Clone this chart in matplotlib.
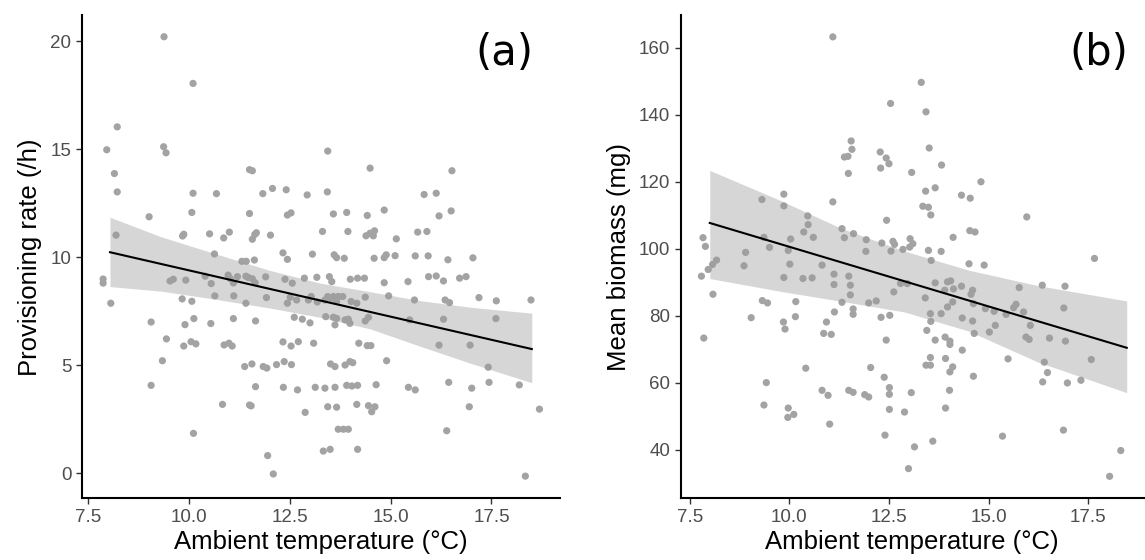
import numpy as np
import matplotlib
matplotlib.use("Agg")
import matplotlib.pyplot as plt

# ---------------- data ----------------
# Panel (a): provisioning rate (/h) vs ambient temperature (°C)
temp_a = [
    9.38, 10.10, 8.22, 7.96, 9.37, 9.43, 8.15, 8.22, 11.50, 11.57,
    10.10, 10.68, 11.83, 12.07, 12.41, 9.01, 10.07, 11.50, 12.44, 12.53,
    8.19, 9.84, 9.87, 10.51, 10.86, 11.00, 11.57, 11.63, 11.67, 12.02,
    10.63, 11.31, 11.42, 11.62, 12.33, 12.44, 7.87, 7.87, 9.53, 9.61,
    9.92, 10.40, 10.55, 10.97, 11.02, 11.10, 11.20, 11.41, 11.47, 11.57,
    11.64, 11.90, 12.38, 12.56, 12.86, 13.17, 13.48, 13.54, 14.00, 14.18,
    14.35, 14.84, 15.43, 15.94, 16.13, 16.31, 16.71, 16.87,
    12.93, 13.43, 13.31, 13.06, 13.44, 14.49, 16.52, 15.83, 16.13, 13.58,
    13.91, 14.42, 14.84, 16.20, 16.50, 13.94, 14.39, 14.49, 14.57, 14.60,
    15.14, 15.67, 15.90, 13.60, 13.66, 13.85, 14.59, 14.84, 14.89, 15.11,
    15.61, 15.93, 16.42, 17.04,
    8.06, 9.83, 10.07, 10.64, 11.11, 11.41, 11.92, 12.44, 12.51, 12.67,
    12.96, 13.03, 13.18, 13.37, 13.44, 13.52, 13.58, 13.70, 13.81, 13.66,
    14.02, 14.16, 14.37, 14.95, 15.59, 16.35, 16.46, 17.19, 17.62, 18.48,
    9.06, 9.90, 10.12, 10.54, 11.10, 11.65, 12.61, 12.81, 13.00, 13.39,
    13.58, 13.66, 13.62, 13.87, 13.95, 13.99, 14.37, 14.45, 15.47, 16.31,
    17.61,
    9.44, 9.87, 10.05, 10.17, 10.87, 10.99, 11.07, 12.33, 12.53, 12.71,
    13.09, 14.21, 14.42, 14.51, 16.20, 16.97,
    9.34, 11.38, 11.56, 11.84, 11.93, 12.17, 12.36, 12.54, 13.51, 13.62,
    13.87, 13.99, 14.06, 14.90, 17.42,
    9.06, 11.65, 12.34, 12.69, 13.13, 13.37, 13.62, 13.91, 14.04, 14.18,
    14.64, 15.44, 15.61, 16.44, 17.01, 17.44, 18.19,
    10.83, 11.50, 11.54, 12.88, 13.44, 13.66, 14.16, 14.45, 14.53, 14.61,
    16.95, 18.69,
    10.11, 13.70, 13.83, 13.95, 16.39, 13.33, 13.50, 14.18, 11.95, 12.09,
    18.34,
]
rate_a = [
    20.20, 18.04, 16.03, 14.97, 15.11, 14.83, 13.87, 13.02, 14.05, 14.00,
    12.96, 12.94, 12.94, 13.18, 13.12, 11.87, 12.07, 12.02, 11.95, 12.05,
    11.02, 10.98, 11.06, 11.08, 10.89, 11.16, 10.83, 11.05, 11.13, 11.02,
    10.15, 9.81, 9.81, 9.87, 10.20, 9.90, 8.99, 8.80, 8.90, 8.98,
    8.94, 9.12, 8.78, 9.17, 9.01, 8.81, 9.10, 9.12, 9.06, 9.00,
    8.82, 9.09, 8.98, 8.80, 9.03, 9.07, 9.10, 8.87, 8.98, 9.03,
    9.03, 8.82, 8.87, 9.10, 9.13, 8.90, 9.03, 9.10,
    12.88, 13.02, 11.19, 10.14, 14.91, 14.12, 14.00, 12.90, 12.96, 12.00,
    12.07, 11.93, 12.18, 11.91, 12.14, 11.19, 10.99, 11.11, 10.99, 11.22,
    10.85, 11.16, 11.19, 10.11, 9.98, 9.95, 9.95, 9.98, 10.11, 10.07,
    10.06, 10.06, 9.88, 9.97,
    7.87, 8.07, 7.96, 8.21, 8.21, 7.87, 8.13, 7.87, 8.15, 8.02,
    8.02, 8.18, 7.93, 8.02, 8.18, 8.10, 8.18, 8.18, 8.18, 7.95,
    7.95, 7.87, 8.15, 8.21, 8.02, 8.02, 7.90, 8.13, 7.98, 8.02,
    7.00, 6.88, 7.16, 6.93, 7.16, 7.05, 7.22, 7.13, 6.96, 7.25,
    7.22, 7.17, 6.87, 7.10, 7.13, 6.94, 7.05, 7.22, 7.10, 7.13,
    7.16,
    6.22, 5.89, 6.09, 5.99, 5.94, 6.02, 5.89, 6.08, 5.89, 6.09,
    6.02, 6.02, 5.91, 5.91, 5.93, 5.93,
    5.21, 4.94, 5.06, 4.94, 4.87, 5.03, 5.17, 5.03, 5.06, 4.94,
    5.01, 5.17, 5.12, 5.21, 4.91,
    4.07, 4.01, 3.98, 3.86, 3.98, 3.94, 3.98, 4.07, 4.04, 4.07,
    4.10, 3.98, 3.86, 4.21, 3.94, 4.21, 4.09,
    3.19, 3.16, 3.12, 2.82, 3.08, 3.06, 3.19, 3.13, 2.85, 3.08,
    3.08, 2.97,
    1.85, 2.04, 2.04, 2.04, 1.97, 1.03, 1.11, 1.11, 0.82, -0.03,
    -0.13,
]

# Panel (b): mean biomass (mg) vs ambient temperature (°C)
temp_b = [
    11.09, 11.55, 11.57, 11.38, 11.47, 11.48, 11.09, 9.31, 9.86, 9.86,
    10.46, 10.47, 10.36, 10.60, 10.03, 9.36, 9.50, 9.97, 8.90, 8.86,
    10.01, 10.82, 7.83, 7.89, 7.79, 7.96, 8.07, 8.17, 11.32, 11.38,
    11.61, 9.86, 10.34, 10.57, 11.12, 11.12, 11.49, 11.53, 11.53, 12.29,
    12.43, 12.50, 12.28, 13.07, 12.44, 8.08, 11.93, 11.92, 12.32, 12.60,
    12.64, 12.55, 12.85, 13.02, 13.03, 13.10, 12.79, 12.96, 11.32, 11.60,
    11.60, 11.13, 11.99, 12.18, 12.62, 12.30, 12.52, 10.93, 10.86, 11.05,
    10.16, 10.15, 9.85, 9.89, 9.32, 9.45, 9.04, 7.85, 12.43, 10.41,
    12.04, 12.38, 9.42, 9.36, 9.97, 9.96, 10.11, 10.82, 10.97, 11.01,
    11.49, 11.60, 11.89, 11.99, 12.51, 12.51, 13.06, 12.51, 12.89, 12.40,
    13.14, 12.99, 13.60, 13.92, 14.02, 13.31, 12.54, 13.43, 13.51, 13.82,
    14.81, 13.42, 13.66, 14.32, 14.54, 13.35, 13.49, 13.55, 15.96, 14.53,
    14.66, 14.11, 13.49, 13.81, 13.56, 14.51, 14.89, 17.66, 16.35, 16.92,
    15.77, 13.66, 13.97, 14.05, 14.12, 14.32, 13.90, 14.60, 14.56, 14.62,
    13.41, 14.10, 13.97, 13.54, 13.81, 13.55, 13.45, 14.34, 14.60, 14.64,
    15.02, 15.17, 14.92, 15.14, 15.44, 15.63, 15.69, 15.88, 16.05, 15.94,
    16.02, 16.53, 16.89, 16.93, 17.58, 13.66, 13.91, 14.03, 14.03, 14.34,
    13.54, 13.43, 13.54, 13.92, 14.10, 14.03, 14.62, 15.49, 16.40, 16.48,
    16.36, 16.98, 17.32, 16.88, 15.35, 18.32, 18.04,
]
biomass_b = [
    163.3, 132.2, 129.7, 127.4, 127.6, 122.5, 114.0, 114.7, 116.3, 112.8,
    109.8, 107.2, 105.0, 103.4, 102.9, 103.4, 100.4, 99.5, 98.9, 94.9,
    95.4, 95.1, 103.3, 100.7, 91.8, 93.8, 95.3, 96.6, 106.0, 103.3,
    104.5, 91.4, 91.1, 91.3, 92.4, 89.3, 91.8, 89.1, 86.2, 124.1,
    127.1, 125.4, 128.9, 122.8, 108.5, 86.4, 102.7, 99.2, 101.7, 102.2,
    101.3, 99.3, 99.8, 100.5, 103.0, 101.5, 89.6, 89.6, 84.0, 82.0,
    80.4, 81.1, 83.8, 84.4, 87.1, 79.5, 80.1, 78.1, 74.7, 74.4,
    84.2, 79.7, 78.1, 76.0, 84.5, 83.8, 79.4, 73.3, 72.7, 64.3,
    64.5, 61.6, 60.0, 53.3, 52.4, 49.6, 50.5, 57.7, 56.2, 47.6,
    57.7, 57.1, 56.4, 55.7, 58.5, 56.5, 57.0, 52.0, 51.2, 44.3,
    40.8, 34.3, 42.5, 52.4, 57.7, 149.7, 143.4, 140.9, 130.1, 125.0,
    120.0, 117.2, 118.2, 116.0, 115.1, 112.7, 112.4, 110.1, 109.5, 105.4,
    105.0, 103.4, 99.5, 99.2, 96.5, 95.5, 95.1, 97.1, 89.1, 88.8,
    88.4, 89.8, 90.1, 90.4, 88.0, 88.8, 87.6, 87.6, 86.4, 83.6,
    85.3, 84.1, 82.6, 80.6, 80.6, 78.3, 75.6, 79.3, 78.4, 74.7,
    75.1, 77.1, 82.1, 81.3, 80.4, 82.4, 83.4, 81.1, 77.1, 73.6,
    72.9, 73.3, 82.3, 72.4, 66.9, 72.7, 73.6, 72.4, 71.4, 69.7,
    67.5, 65.2, 65.2, 67.2, 64.7, 63.2, 61.9, 67.1, 66.1, 63.0,
    60.2, 59.9, 60.7, 45.8, 44.0, 39.7, 32.0,
]

# fitted model line (end points) and its 95% confidence band
fit_x_a = [8.04, 18.5]
fit_y_a = [10.23, 5.75]
band_x_a = [8.04, 9.3, 10.6, 12.0, 13.25, 14.5, 15.73, 17.0, 18.5]
band_lo_a = [8.64, 8.43, 8.07, 7.65, 7.22, 6.68, 5.88, 5.08, 4.19]
band_hi_a = [11.85, 10.95, 10.19, 9.39, 8.80, 8.40, 7.99, 7.68, 7.41]

fit_x_b = [8.0, 18.47]
fit_y_b = [107.7, 70.4]
band_x_b = [8.0, 9.76, 11.3, 12.89, 14.5, 16.23, 18.47]
band_lo_b = [91.1, 87.3, 84.3, 81.1, 75.4, 66.2, 57.0]
band_hi_b = [123.4, 114.5, 106.1, 99.3, 93.6, 89.0, 84.4]

x_ticks = [7.5, 10.0, 12.5, 15.0, 17.5]
y_ticks_a = [0, 5, 10, 15, 20]
y_ticks_b = [40, 60, 80, 100, 120, 140, 160]

x_label = "Ambient temperature (°C)"
y_label_a = "Provisioning rate (/h)"
y_label_b = "Mean biomass (mg)"
panel_a = "(a)"
panel_b = "(b)"

# ---------------- style ----------------
plt.rcParams["font.family"] = ["Liberation Sans", "DejaVu Sans"]
PT_COL = "#A3A3A3"
BAND_COL = "#999999"


def style_ax(ax):
    for sp in ("top", "right"):
        ax.spines[sp].set_visible(False)
    for sp in ("left", "bottom"):
        ax.spines[sp].set_linewidth(1.5)
        ax.spines[sp].set_color("black")
    ax.tick_params(axis="both", length=4.5, width=1.0, color="#333333",
                   labelsize=13.5, labelcolor="#4D4D4D", pad=3)
    ax.set_xticks(x_ticks)
    ax.set_xticklabels([f"{v:.1f}" for v in x_ticks])


fig = plt.figure(figsize=(11.45, 5.6), dpi=100)
ax1 = fig.add_axes([0.0714, 0.110, 0.4177, 0.863])
ax2 = fig.add_axes([0.5945, 0.110, 0.4045, 0.863])

for ax, xs, ys, fx, fy, bx, blo, bhi, yt, ylab, lab, labx in (
        (ax1, temp_a, rate_a, fit_x_a, fit_y_a, band_x_a, band_lo_a, band_hi_a,
         y_ticks_a, y_label_a, panel_a, 0.883),
        (ax2, temp_b, biomass_b, fit_x_b, fit_y_b, band_x_b, band_lo_b, band_hi_b,
         y_ticks_b, y_label_b, panel_b, 0.903)):
    ax.scatter(xs, ys, s=27, color=PT_COL, edgecolors="none", zorder=2)
    ax.fill_between(bx, blo, bhi, color=BAND_COL, alpha=0.4, linewidth=0, zorder=3)
    ax.plot(fx, fy, color="black", linewidth=1.5, zorder=4)
    style_ax(ax)
    ax.set_yticks(yt)
    ax.set_xlabel(x_label, fontsize=18.5, color="black", labelpad=3)
    ax.set_ylabel(ylab, fontsize=18.5, color="black", labelpad=6)
    ax.text(labx, 0.921, lab, transform=ax.transAxes, ha="center", va="center",
            fontsize=30, family="DejaVu Sans", color="black")

ax1.set_xlim(7.34, 19.2)
ax1.set_ylim(-1.16, 21.2)
ax2.set_xlim(7.27, 18.9)
ax2.set_ylim(25.4, 169.8)

fig.savefig("out.png", dpi=100)
